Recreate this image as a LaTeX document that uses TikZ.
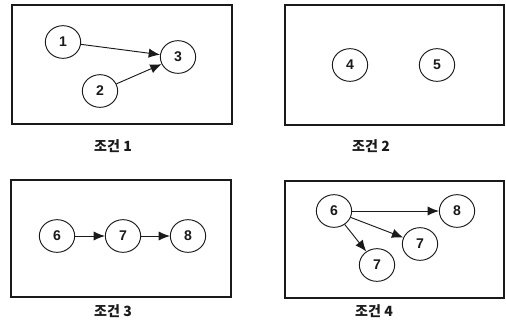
\documentclass[tikz,border=0pt]{standalone}
\usepackage{fontspec}
\setmainfont{Liberation Sans}
\newfontfamily\krfont{Noto Sans CJK KR}
\usetikzlibrary{arrows.meta,shapes.geometric}
\definecolor{scanink}{HTML}{1A1A1A}

\begin{document}
\begin{tikzpicture}[
  x=0.03cm, y=-0.03cm,
  panel/.style={draw=scanink, line width=0.9pt},
  state/.style={ellipse, draw=scanink, line width=0.8pt, minimum width=1.06cm,
    minimum height=0.98cm, inner sep=0pt, font=\large\bfseries, text=scanink},
  caption/.style={font=\krfont\bfseries\large, text=scanink},
  flow/.style={-{Latex[length=3.4mm, width=2.8mm]}, line width=0.8pt, draw=scanink}
]
  \useasboundingbox (0,0) rectangle (506,328);

  % condition 1
  \draw[panel] (12,5) rectangle (232,124);
  \node[state] (one) at (63,42) {1};
  \node[state] (two) at (100,91) {2};
  \node[state] (three) at (178,57) {3};
  \node[caption] (capA) at (113,146) {조건 1};
  \draw[flow] (one) -- (three);
  \draw[flow] (two) -- (three);

  % condition 2
  \draw[panel] (285,5) rectangle (504,125);
  \node[state] (four) at (350,65) {4};
  \node[state] (five) at (437,65) {5};
  \node[caption] (capB) at (371,146) {조건 2};

  % condition 3
  \draw[panel] (11,180) rectangle (231,297);
  \node[state] (six) at (57,236) {6};
  \node[state] (seven) at (123,236) {7};
  \node[state] (eight) at (188,236) {8};
  \node[caption] (capC) at (113,311) {조건 3};
  \draw[flow] (six) -- (seven);
  \draw[flow] (seven) -- (eight);

  % condition 4
  \draw[panel] (285,181) rectangle (504,298);
  \node[state] (sixB) at (334,211) {6};
  \node[state] (eightB) at (457,211) {8};
  \node[state] (sevenB) at (420,244) {7};
  \node[state] (sevenC) at (377,265) {7};
  \node[caption] (capD) at (374,311) {조건 4};
  \draw[flow] (sixB) -- (eightB);
  \draw[flow] (sixB) -- (sevenB);
  \draw[flow] (sixB) -- (sevenC);
\end{tikzpicture}
\end{document}
